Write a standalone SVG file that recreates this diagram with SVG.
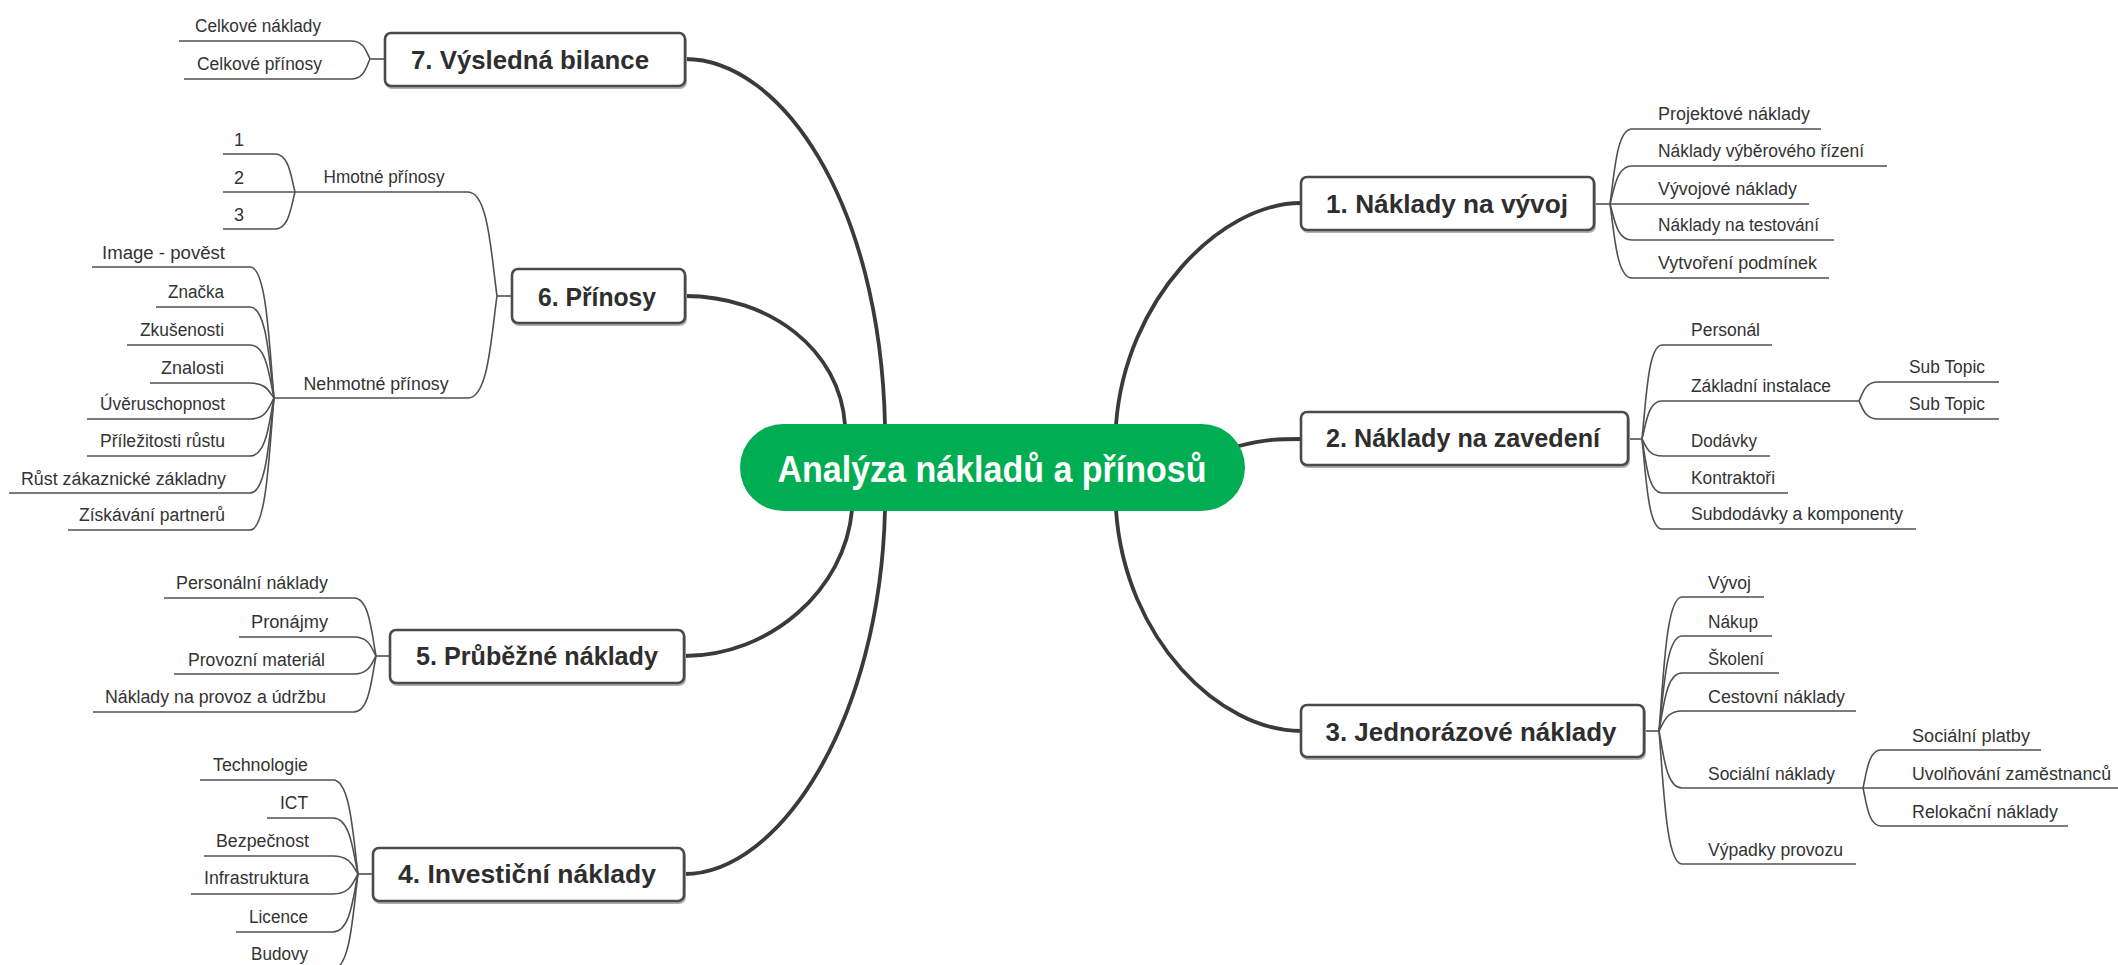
<svg xmlns="http://www.w3.org/2000/svg" width="2118" height="965" viewBox="0 0 2118 965">
<style>
.main{fill:none;stroke:#3a3a3a;stroke-width:3.8;stroke-linecap:round}
.sub{fill:none;stroke:#505050;stroke-width:1.6}
.box{fill:#fff;stroke:#4a4a4a;stroke-width:2.6}
.shd{fill:none;stroke:#b0b0b0;stroke-width:2}
.bt{font-family:"Liberation Sans",Arial,sans-serif;font-weight:bold;font-size:25px;fill:#2e2e2e;text-anchor:middle}
.s{font-family:"Liberation Sans",Arial,sans-serif;font-size:18px;fill:#333}
.e{text-anchor:end}
.m{text-anchor:middle}
.ct{font-family:"Liberation Sans",Arial,sans-serif;font-weight:bold;font-size:36px;fill:#fff;text-anchor:middle}
</style>
<rect width="2118" height="965" fill="#fff"/>
<g id="connectors">
<path class="main" d="M685,59 C780,59 880,200 885,425"/>
<path class="main" d="M685,296 C770,296 840,350 845,425"/>
<path class="main" d="M684,656 C770,656 845,590 852,510"/>
<path class="main" d="M684,874 C780,874 880,720 885,510"/>
<path class="main" d="M1301,203 C1220,203 1125,300 1116,425"/>
<path class="main" d="M1239,446 C1265,439 1280,439 1301,439"/>
<path class="main" d="M1301,731 C1220,731 1125,640 1116,510"/>
<!-- box 1 -->
<path class="sub" d="M1594,204 H1610"/>
<path class="sub" d="M1610,204 C1614.4,174 1616.6,129 1632,129 H1821"/>
<path class="sub" d="M1610,204 C1614.4,188.8 1616.6,166 1632,166 H1887"/>
<path class="sub" d="M1610,204 H1809"/>
<path class="sub" d="M1610,204 C1614.4,218.4 1616.6,240 1632,240 H1834"/>
<path class="sub" d="M1610,204 C1614.4,233.6 1616.6,278 1632,278 H1829"/>
<!-- box 2 -->
<path class="sub" d="M1628,439 H1642"/>
<path class="sub" d="M1642,439 C1646,401.4 1648,345 1662,345 H1772"/>
<path class="sub" d="M1642,439 C1646,423.8 1648,401 1662,401 H1859"/>
<path class="sub" d="M1642,439 C1646,445.8 1648,456 1662,456 H1770"/>
<path class="sub" d="M1642,439 C1646,460.6 1648,493 1662,493 H1788"/>
<path class="sub" d="M1642,439 C1646,475 1648,529 1662,529 H1916"/>
<path class="sub" d="M1859,401 C1862.8,393.4 1864.7,382 1878,382 H1999"/>
<path class="sub" d="M1859,401 C1862.8,408.2 1864.7,419 1878,419 H1999"/>
<!-- box 3 -->
<path class="sub" d="M1644,731 H1659"/>
<path class="sub" d="M1659,731 C1663.6,677.4 1665.9,597 1682,597 H1764"/>
<path class="sub" d="M1659,731 C1663.6,693 1665.9,636 1682,636 H1772"/>
<path class="sub" d="M1659,731 C1663.6,707.8 1665.9,673 1682,673 H1779"/>
<path class="sub" d="M1659,731 C1663.6,723 1665.9,711 1682,711 H1856"/>
<path class="sub" d="M1659,731 C1663.6,753.8 1665.9,788 1682,788 H1863"/>
<path class="sub" d="M1659,731 C1663.6,784.2 1665.9,864 1682,864 H1856"/>
<path class="sub" d="M1863,788 C1866.6,772.8 1868.4,750 1881,750 H2041"/>
<path class="sub" d="M1863,788 H2118"/>
<path class="sub" d="M1863,788 C1866.6,803.2 1868.4,826 1881,826 H2068"/>
<!-- box 7 -->
<path class="sub" d="M385,59 H370"/>
<path class="sub" d="M370,59 C366.2,51.8 364.3,41 351,41 H179"/>
<path class="sub" d="M370,59 C366.2,67 364.3,79 351,79 H184"/>
<!-- box 6 -->
<path class="sub" d="M512,296 H497"/>
<path class="sub" d="M497,296 C491.2,254.4 488.3,192 468,192 H295"/>
<path class="sub" d="M497,296 C491.2,336.8 488.3,398 468,398 H274"/>
<path class="sub" d="M295,192 C291,176.8 289,154 275,154 H223"/>
<path class="sub" d="M295,192 H223"/>
<path class="sub" d="M295,192 C291,206.8 289,229 275,229 H223"/>
<path class="sub" d="M274,398 C269.2,345.6 266.8,267 250,267 H92"/>
<path class="sub" d="M274,398 C269.2,361.6 266.8,307 250,307 H156"/>
<path class="sub" d="M274,398 C269.2,376.8 266.8,345 250,345 H127"/>
<path class="sub" d="M274,398 C269.2,392 266.8,383 250,383 H150"/>
<path class="sub" d="M274,398 C269.2,406.4 266.8,419 250,419 H87"/>
<path class="sub" d="M274,398 C269.2,421.2 266.8,456 250,456 H87"/>
<path class="sub" d="M274,398 C269.2,436 266.8,493 250,493 H9"/>
<path class="sub" d="M274,398 C269.2,450.8 266.8,530 250,530 H68"/>
<!-- box 5 -->
<path class="sub" d="M390,656 H376"/>
<path class="sub" d="M376,656 C371.6,632.8 369.4,598 354,598 H164"/>
<path class="sub" d="M376,656 C371.6,648.4 369.4,637 354,637 H239"/>
<path class="sub" d="M376,656 C371.6,663.2 369.4,674 354,674 H174"/>
<path class="sub" d="M376,656 C371.6,678.4 369.4,712 354,712 H93"/>
<!-- box 4 -->
<path class="sub" d="M373,874 H358"/>
<path class="sub" d="M358,874 C353,836.4 350.5,780 333,780 H200"/>
<path class="sub" d="M358,874 C353,851.6 350.5,818 333,818 H267"/>
<path class="sub" d="M358,874 C353,866.8 350.5,856 333,856 H204"/>
<path class="sub" d="M358,874 C353,882 350.5,894 333,894 H191"/>
<path class="sub" d="M358,874 C353,897.2 350.5,932 333,932 H236"/>
<path class="sub" d="M358,874 C353,912 350.5,969 333,969 H238"/>
</g>
<g id="center">
<rect x="740" y="424" width="505" height="87" rx="43.5" fill="#00ad52"/>
<text class="ct" x="992" y="482" textLength="429" lengthAdjust="spacingAndGlyphs">Analýza nákladů a přínosů</text>
</g>
<g id="n1">
<rect class="shd" x="1302" y="179" width="293" height="53" rx="6"/>
<rect class="box" x="1301" y="177" width="293" height="53" rx="6"/>
<text class="bt" x="1447" y="213" textLength="242" lengthAdjust="spacingAndGlyphs">1. Náklady na vývoj</text>
</g>
<g id="n1-children">
<text class="s" x="1658" y="120" textLength="152" lengthAdjust="spacingAndGlyphs">Projektové náklady</text>
<text class="s" x="1658" y="157" textLength="206" lengthAdjust="spacingAndGlyphs">Náklady výběrového řízení</text>
<text class="s" x="1658" y="195" textLength="139" lengthAdjust="spacingAndGlyphs">Vývojové náklady</text>
<text class="s" x="1658" y="231" textLength="161" lengthAdjust="spacingAndGlyphs">Náklady na testování</text>
<text class="s" x="1658" y="269" textLength="159" lengthAdjust="spacingAndGlyphs">Vytvoření podmínek</text>
</g>
<g id="n2">
<rect class="shd" x="1302" y="414" width="327" height="53" rx="6"/>
<rect class="box" x="1301" y="412" width="327" height="53" rx="6"/>
<text class="bt" x="1463" y="447" textLength="274" lengthAdjust="spacingAndGlyphs">2. Náklady na zavedení</text>
</g>
<g id="n2-children">
<text class="s" x="1691" y="336" textLength="69" lengthAdjust="spacingAndGlyphs">Personál</text>
<text class="s" x="1691" y="392" textLength="140" lengthAdjust="spacingAndGlyphs">Základní instalace</text>
<text class="s" x="1909" y="373" textLength="76" lengthAdjust="spacingAndGlyphs">Sub Topic</text>
<text class="s" x="1909" y="410" textLength="76" lengthAdjust="spacingAndGlyphs">Sub Topic</text>
<text class="s" x="1691" y="447" textLength="66" lengthAdjust="spacingAndGlyphs">Dodávky</text>
<text class="s" x="1691" y="484" textLength="84" lengthAdjust="spacingAndGlyphs">Kontraktoři</text>
<text class="s" x="1691" y="520" textLength="212" lengthAdjust="spacingAndGlyphs">Subdodávky a komponenty</text>
</g>
<g id="n3">
<rect class="shd" x="1302" y="707" width="343" height="52" rx="6"/>
<rect class="box" x="1301" y="705" width="343" height="52" rx="6"/>
<text class="bt" x="1471" y="741" textLength="291" lengthAdjust="spacingAndGlyphs">3. Jednorázové náklady</text>
</g>
<g id="n3-children">
<text class="s" x="1708" y="589" textLength="43" lengthAdjust="spacingAndGlyphs">Vývoj</text>
<text class="s" x="1708" y="628" textLength="50" lengthAdjust="spacingAndGlyphs">Nákup</text>
<text class="s" x="1708" y="665" textLength="56" lengthAdjust="spacingAndGlyphs">Školení</text>
<text class="s" x="1708" y="703" textLength="137" lengthAdjust="spacingAndGlyphs">Cestovní náklady</text>
<text class="s" x="1708" y="780" textLength="127" lengthAdjust="spacingAndGlyphs">Sociální náklady</text>
<text class="s" x="1912" y="742" textLength="118" lengthAdjust="spacingAndGlyphs">Sociální platby</text>
<text class="s" x="1912" y="780" textLength="199" lengthAdjust="spacingAndGlyphs">Uvolňování zaměstnanců</text>
<text class="s" x="1912" y="818" textLength="146" lengthAdjust="spacingAndGlyphs">Relokační náklady</text>
<text class="s" x="1708" y="856" textLength="135" lengthAdjust="spacingAndGlyphs">Výpadky provozu</text>
</g>
<g id="n7">
<rect class="shd" x="386" y="35" width="300" height="53" rx="6"/>
<rect class="box" x="385" y="33" width="300" height="53" rx="6"/>
<text class="bt" x="530" y="69" textLength="238" lengthAdjust="spacingAndGlyphs">7. Výsledná bilance</text>
</g>
<g id="n7-children">
<text class="s e" x="321" y="32" textLength="126" lengthAdjust="spacingAndGlyphs">Celkové náklady</text>
<text class="s e" x="322" y="70" textLength="125" lengthAdjust="spacingAndGlyphs">Celkové přínosy</text>
</g>
<g id="n6">
<rect class="shd" x="513" y="271" width="173" height="54" rx="6"/>
<rect class="box" x="512" y="269" width="173" height="54" rx="6"/>
<text class="bt" x="597" y="306" textLength="118" lengthAdjust="spacingAndGlyphs">6. Přínosy</text>
</g>
<g id="n6-children">
<text class="s m" x="384" y="183" textLength="121" lengthAdjust="spacingAndGlyphs">Hmotné přínosy</text>
<text class="s e" x="244" y="146">1</text>
<text class="s e" x="244" y="184">2</text>
<text class="s e" x="244" y="221">3</text>
<text class="s m" x="376" y="390" textLength="145" lengthAdjust="spacingAndGlyphs">Nehmotné přínosy</text>
<text class="s e" x="225" y="259" textLength="123" lengthAdjust="spacingAndGlyphs">Image - pověst</text>
<text class="s e" x="224" y="298" textLength="56" lengthAdjust="spacingAndGlyphs">Značka</text>
<text class="s e" x="224" y="336" textLength="84" lengthAdjust="spacingAndGlyphs">Zkušenosti</text>
<text class="s e" x="224" y="374" textLength="63" lengthAdjust="spacingAndGlyphs">Znalosti</text>
<text class="s e" x="225" y="410" textLength="125" lengthAdjust="spacingAndGlyphs">Úvěruschopnost</text>
<text class="s e" x="225" y="447" textLength="125" lengthAdjust="spacingAndGlyphs">Příležitosti růstu</text>
<text class="s e" x="226" y="485" textLength="205" lengthAdjust="spacingAndGlyphs">Růst zákaznické základny</text>
<text class="s e" x="225" y="521" textLength="146" lengthAdjust="spacingAndGlyphs">Získávání partnerů</text>
</g>
<g id="n5">
<rect class="shd" x="391" y="632" width="294" height="53" rx="6"/>
<rect class="box" x="390" y="630" width="294" height="53" rx="6"/>
<text class="bt" x="537" y="665" textLength="242" lengthAdjust="spacingAndGlyphs">5. Průběžné náklady</text>
</g>
<g id="n5-children">
<text class="s e" x="328" y="589" textLength="152" lengthAdjust="spacingAndGlyphs">Personální náklady</text>
<text class="s e" x="328" y="628" textLength="77" lengthAdjust="spacingAndGlyphs">Pronájmy</text>
<text class="s e" x="325" y="666" textLength="137" lengthAdjust="spacingAndGlyphs">Provozní materiál</text>
<text class="s e" x="326" y="703" textLength="221" lengthAdjust="spacingAndGlyphs">Náklady na provoz a údržbu</text>
</g>
<g id="n4">
<rect class="shd" x="374" y="850" width="311" height="53" rx="6"/>
<rect class="box" x="373" y="848" width="311" height="53" rx="6"/>
<text class="bt" x="527" y="883" textLength="258" lengthAdjust="spacingAndGlyphs">4. Investiční náklady</text>
</g>
<g id="n4-children">
<text class="s e" x="308" y="771" textLength="95" lengthAdjust="spacingAndGlyphs">Technologie</text>
<text class="s e" x="308" y="809" textLength="28" lengthAdjust="spacingAndGlyphs">ICT</text>
<text class="s e" x="309" y="847" textLength="93" lengthAdjust="spacingAndGlyphs">Bezpečnost</text>
<text class="s e" x="309" y="884" textLength="105" lengthAdjust="spacingAndGlyphs">Infrastruktura</text>
<text class="s e" x="308" y="923" textLength="59" lengthAdjust="spacingAndGlyphs">Licence</text>
<text class="s e" x="308" y="960" textLength="57" lengthAdjust="spacingAndGlyphs">Budovy</text>
</g>
</svg>
